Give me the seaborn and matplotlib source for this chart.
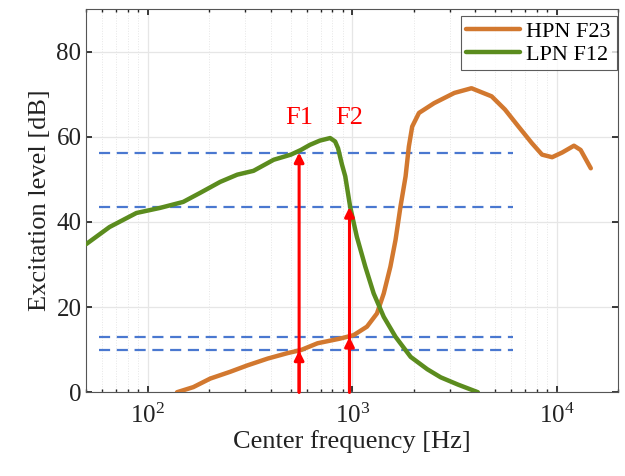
import numpy as np
import pandas as pd
import matplotlib
matplotlib.use("Agg")
import matplotlib.pyplot as plt
import matplotlib.ticker as mticker
import seaborn as sns

# ── Data ──────────────────────────────────────────────────────────────────────
lpn_freq = [50, 65, 88, 115, 149, 180, 226, 274, 329, 413, 501, 561, 621, 695,
            780, 825, 853, 891, 925, 977, 1054, 1159, 1274, 1427, 1630, 1932,
            2330, 2710, 3290, 4120]
lpn_level = [34.8, 38.8, 42.1, 43.3, 44.7, 46.8, 49.4, 51.1, 52.0, 54.6, 55.8,
             56.9, 58.1, 59.1, 59.7, 58.9, 57.3, 53.5, 50.7, 43.6, 36.5, 29.5,
             23.2, 17.7, 13.0, 8.3, 5.4, 3.5, 1.8, 0.0]

hpn_freq = [139, 167, 202, 253, 307, 386, 484, 561, 677, 873, 1016, 1181, 1322,
            1427, 1538, 1630, 1723, 1825, 1893, 1966, 2122, 2517, 3162, 3834,
            4810, 5590, 6510, 7570, 8490, 9510, 10650, 12160, 13110, 14700]
hpn_level = [0.0, 1.2, 3.2, 4.8, 6.3, 7.9, 9.2, 9.9, 11.5, 12.6, 13.4, 15.4,
             18.5, 23.2, 29.5, 35.8, 43.6, 50.7, 57.7, 62.4, 65.6, 67.9, 70.3,
             71.4, 69.5, 66.4, 62.4, 58.5, 55.8, 55.2, 56.3, 57.9, 56.9, 52.6]

ref_levels = [56.3, 43.5, 13.0, 9.8]
ref_span = [58, 6100]

formant_names = ["F1", "F2"]
formant_freq = [550, 970]
formant_top = [56.3, 43.5]
formant_low = [9.8, 13.0]

ORANGE = "#D2782F"
GREEN = "#5B8C1E"
BLUE = "#4A78D0"
RED = "#FF0000"

sns.set_theme(style="ticks")
plt.rcParams["font.family"] = ["Liberation Serif", "DejaVu Serif"]
plt.rcParams["mathtext.fontset"] = "stix"

fig = plt.figure(figsize=(6.25, 4.76), dpi=100)
ax = fig.add_axes([0.138, 0.176, 0.851, 0.805])

hpn = pd.DataFrame({"freq": hpn_freq, "level": hpn_level})
lpn = pd.DataFrame({"freq": lpn_freq, "level": lpn_level})
sns.lineplot(data=hpn, x="freq", y="level", ax=ax, color=ORANGE, lw=3.2,
             label="HPN F23", zorder=4, solid_joinstyle="round")
sns.lineplot(data=lpn, x="freq", y="level", ax=ax, color=GREEN, lw=3.2,
             label="LPN F12", zorder=4, solid_joinstyle="round")

# reference levels picked off at the formant frequencies
for lv in ref_levels:
    ax.plot(ref_span, [lv, lv], color=BLUE, lw=1.6, dashes=(5, 3), zorder=3)

for name, f, top, low in zip(formant_names, formant_freq, formant_top, formant_low):
    for yv in (top, low):
        ax.annotate("", xy=(f, yv), xytext=(f, 0),
                    arrowprops=dict(arrowstyle="-|>", color=RED, lw=2.2,
                                    mutation_scale=14, shrinkA=0, shrinkB=0),
                    zorder=5)
    ax.text(f, 61.8, name, color=RED, fontsize=19, ha="center", va="bottom")

ax.set_xscale("log")
ax.set_xlim(50, 20000)
ax.set_ylim(0, 90)
ax.set_yticks([0, 20, 40, 60, 80])
ax.xaxis.set_major_locator(mticker.LogLocator(base=10, numticks=10))
ax.xaxis.set_minor_locator(mticker.LogLocator(base=10, subs=np.arange(2, 10), numticks=20))
ax.xaxis.set_minor_formatter(mticker.NullFormatter())

ax.grid(which="major", color="#E6E6E6", lw=0.9)
ax.grid(which="minor", axis="x", color="#E6E6E6", lw=0.7, ls=":")
ax.set_axisbelow(True)

for s in ax.spines.values():
    s.set_color("#555555")
    s.set_linewidth(0.8)
    s.set_visible(True)
ax.tick_params(which="both", direction="in", top=True, right=True,
               colors="#222222", labelsize=18, length=4)
ax.tick_params(which="minor", length=2.5)
ax.tick_params(axis="x", pad=8)

ax.set_xlabel("Center frequency [Hz]", fontsize=19, color="#222222", labelpad=2)
ax.set_ylabel("Excitation level [dB]", fontsize=19, color="#222222", labelpad=4)

leg = ax.legend(loc="upper right", bbox_to_anchor=(0.997, 0.982), fontsize=16,
                frameon=True, fancybox=False, edgecolor="#333333",
                handlelength=2.4, borderpad=0.25, labelspacing=0.1,
                handletextpad=0.3, borderaxespad=0.0)
leg.get_frame().set_linewidth(0.8)
for t in leg.get_texts():
    t.set_color("black")

fig.savefig("out.png", dpi=100)
